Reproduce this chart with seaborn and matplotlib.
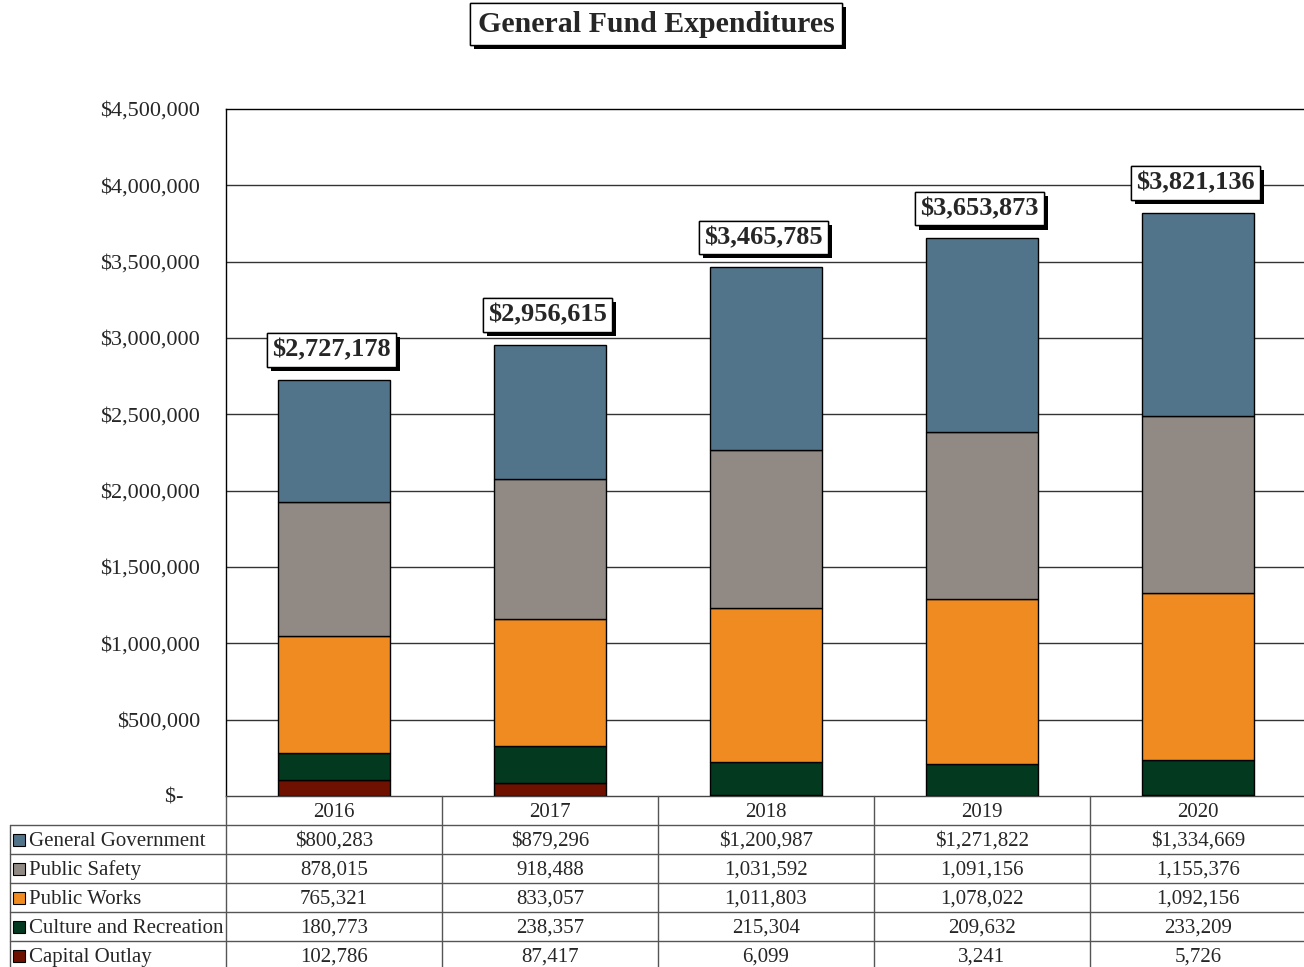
import numpy as np
import pandas as pd
import matplotlib.pyplot as plt
import matplotlib.patheffects as pe
import seaborn as sns

# Chart data
years = ["2016", "2017", "2018", "2019", "2020"]
categories = [
    "General Government",
    "Public Safety",
    "Public Works",
    "Culture and Recreation",
    "Capital Outlay",
]
general_government = [800283, 879296, 1200987, 1271822, 1334669]
public_safety = [878015, 918488, 1031592, 1091156, 1155376]
public_works = [765321, 833057, 1011803, 1078022, 1092156]
culture_recreation = [180773, 238357, 215304, 209632, 233209]
capital_outlay = [102786, 87417, 6099, 3241, 5726]

colors = {
    "General Government": "#52748B",
    "Public Safety": "#918983",
    "Public Works": "#F08B22",
    "Culture and Recreation": "#03391F",
    "Capital Outlay": "#6E1100",
}

df = pd.DataFrame(
    {
        "year": years,
        "General Government": general_government,
        "Public Safety": public_safety,
        "Public Works": public_works,
        "Culture and Recreation": culture_recreation,
        "Capital Outlay": capital_outlay,
    }
)
totals = df[categories].sum(axis=1).to_numpy()

sns.set_theme(style="white")
plt.rcParams["font.family"] = ["Liberation Serif", "DejaVu Serif"]

W, H = 1304, 967
fig = plt.figure(figsize=(W / 100, H / 100), dpi=100)

# Plot area in pixels: left 226, bottom 796, top 109, one category = 216 px
ax = fig.add_axes([226 / W, 1 - 796 / H, 5 * 216 / W, (796 - 109) / H])

# Stack from the bottom: capital outlay first
stack_order = categories[::-1]
bottom = np.zeros(len(years))
for cat in stack_order:
    sns.barplot(
        data=df,
        x="year",
        y=cat,
        bottom=bottom,
        color=colors[cat],
        saturation=1,
        width=0.52,
        edgecolor="black",
        linewidth=1,
        ax=ax,
        zorder=3,
    )
    bottom = bottom + df[cat].to_numpy()

ax.set_xlim(-0.5, 4.5)
ax.set_ylim(0, 4500000)
yticks = np.arange(0, 4500001, 500000)
ax.set_yticks(yticks)
ax.set_yticklabels(["$-   "] + [f"${v:,.0f}" for v in yticks[1:]], fontsize=16)
ax.tick_params(axis="y", length=0, pad=18.5)
ax.set_xticks([])
ax.set_xlabel("")
ax.set_ylabel("")
for y in yticks[1:-1]:
    ax.axhline(y, color="#333333", linewidth=1, zorder=1)
ax.spines["top"].set_color("black")
ax.spines["left"].set_color("black")
ax.spines["bottom"].set_color("#444444")
ax.spines["right"].set_visible(False)
for s in ["top", "left", "bottom"]:
    ax.spines[s].set_linewidth(1)

# Total labels in shadowed boxes
for i, total in enumerate(totals):
    t = ax.annotate(
        f"${total:,.0f}",
        xy=(i, total),
        xytext=(-2, 13),
        textcoords="offset points",
        ha="center",
        va="bottom",
        fontsize=19,
        fontweight="bold",
        zorder=5,
        bbox=dict(boxstyle="square,pad=0.2", facecolor="white", edgecolor="black", linewidth=1),
    )
    t.get_bbox_patch().set_path_effects(
        [pe.withSimplePatchShadow(offset=(3, -3), shadow_rgbFace="black", alpha=1), pe.Normal()]
    )

# Title
title = fig.text(
    656 / W,
    1 - 24 / H,
    "General Fund Expenditures",
    ha="center",
    va="center",
    fontsize=21.5,
    fontweight="bold",
    bbox=dict(boxstyle="square,pad=0.25", facecolor="white", edgecolor="black", linewidth=1),
)
title.get_bbox_patch().set_path_effects(
    [pe.withSimplePatchShadow(offset=(3, -3), shadow_rgbFace="black", alpha=1), pe.Normal()]
)

# Data table below the plot, aligned to the same category columns
row_h = 29
tax = fig.add_axes([226 / W, 0, 5 * 216 / W, (H - 796) / H])
tax.set_xlim(-0.5, 4.5)
tax.set_ylim((H - 796) / row_h, 0)
tax.axis("off")

line_kw = dict(color="#555555", linewidth=1, clip_on=False)
n_rows = len(categories) + 1
for r in range(1, n_rows):
    tax.plot([-1.5, 4.5], [r, r], **line_kw)
tax.plot([-1.5, -1.5], [1, n_rows], **line_kw)
for c in range(len(years)):
    tax.plot([c - 0.5, c - 0.5], [0, n_rows], **line_kw)

mid = 0.56
for c, yr in enumerate(years):
    tax.text(c, mid, yr, ha="center", va="center", fontsize=15)

for r, cat in enumerate(categories, start=1):
    tax.plot(-1.46, r + 0.5, marker="s", markersize=8, color=colors[cat],
             markeredgecolor="black", markeredgewidth=0.8, clip_on=False)
    tax.text(-1.41, r + mid, cat, ha="left", va="center", fontsize=15, clip_on=False)
    for c, val in enumerate(df[cat]):
        label = f"${val:,.0f}" if r == 1 else f"{val:,.0f}"
        tax.text(c, r + mid, label, ha="center", va="center", fontsize=15)

fig.savefig("out.png", dpi=100)
